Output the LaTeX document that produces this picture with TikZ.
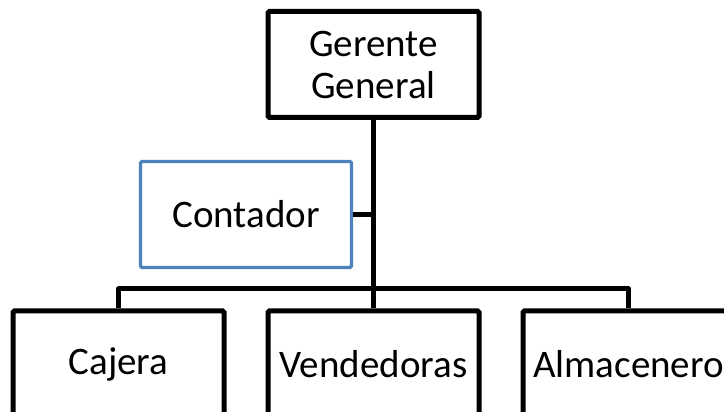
\documentclass[tikz,border=0pt]{standalone}
\usepackage{fontspec}
\setmainfont{Carlito}
\definecolor{officeblue}{RGB}{79,129,189}
\begin{document}
\begin{tikzpicture}[x = 1pt, y = 1pt,
        puesto/.style = {draw = black, line width = 5pt, fill = white, rounded corners = 1.5pt,
            minimum width = 211pt, minimum height = 106pt, inner sep = 0pt, align = center,
            font = \fontsize{39}{42}\selectfont},
        asesor/.style = {puesto, draw = officeblue, line width = 3.2pt},
        linea/.style = {black, line width = 5pt, line join = round}]
            \clip (0, 0) rectangle (724, 412);
            \fill[white] (0, 0) rectangle (724, 412);
            \node[puesto] (gerente) at (373.5, 347.5) {Gerente\\General};
            \node[asesor] (contador) at (246, 197.5) {Contador};
            \node[puesto] (cajera) at (118.5, 48) {Cajera};
            \node[puesto] (vendedoras) at (373.5, 48) {Vendedoras};
            \node[puesto] (almacenero) at (628.5, 48) {Almacenero};
            \coordinate (bus) at (373.5, 123);
            \draw[linea] (gerente.south) -- (vendedoras.north);
            \draw[linea] (cajera.north) |- (bus) -| (almacenero.north);
            \draw[linea] (contador.east) -- (contador.east -| gerente.south);
        \end{tikzpicture}
\end{document}
